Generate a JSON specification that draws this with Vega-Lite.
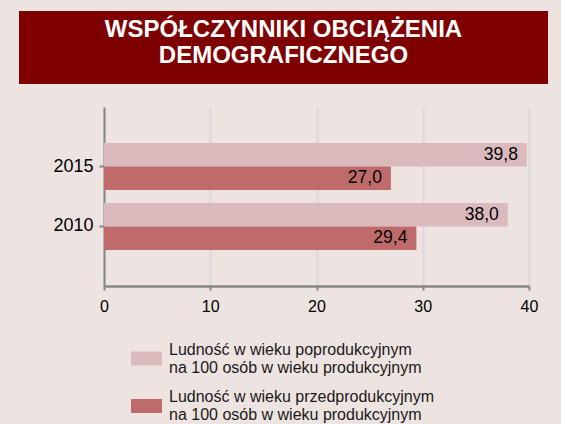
{
  "$schema": "https://vega.github.io/schema/vega-lite/v6.json",
  "background": "#EDE3E1",
  "padding": {"left": 19, "top": 11, "right": 13, "bottom": 2},
  "config": {
    "view": {"stroke": null},
    "font": "Liberation Sans",
    "locale": {"number": {"decimal": ",", "thousands": " ", "grouping": [3], "currency": ["", " zł"]}}
  },
  "spacing": 23,
  "resolve": {"scale": {"x": "independent", "y": "independent"}},
  "vconcat": [
    {
      "width": 529,
      "height": 73,
      "view": {"fill": "#7F0000", "stroke": null},
      "data": {"values": [{"k": 1}]},
      "mark": {"type": "text", "color": "#FFFFFF", "fontSize": 24, "fontWeight": "bold", "align": "center", "baseline": "middle", "lineHeight": 26},
      "encoding": {
        "text": {"value": ["WSPÓŁCZYNNIKI OBCIĄŻENIA", "DEMOGRAFICZNEGO"]},
        "x": {"datum": 0.5, "type": "quantitative", "scale": {"domain": [0, 1]}, "axis": null},
        "y": {"datum": 0.265, "type": "quantitative", "scale": {"domain": [1, 0]}, "axis": null}
      }
    },
    {
      "width": 529,
      "height": 179,
      "data": {"values": [
        {"rok": "2015", "grupa": "Ludność w wieku poprodukcyjnym na 100 osób w wieku produkcyjnym", "wartosc": 39.8},
        {"rok": "2015", "grupa": "Ludność w wieku przedprodukcyjnym na 100 osób w wieku produkcyjnym", "wartosc": 27.0},
        {"rok": "2010", "grupa": "Ludność w wieku poprodukcyjnym na 100 osób w wieku produkcyjnym", "wartosc": 38.0},
        {"rok": "2010", "grupa": "Ludność w wieku przedprodukcyjnym na 100 osób w wieku produkcyjnym", "wartosc": 29.4}
      ]},
      "encoding": {
        "y": {
          "field": "rok", "type": "nominal",
          "scale": {"domain": ["2015", "2010"], "paddingInner": 0.217, "paddingOuter": 0.603},
          "axis": {"title": null, "offset": -85, "domainColor": "#868686", "domainWidth": 2, "tickColor": "#868686", "tickSize": 5, "tickWidth": 2, "labelFontSize": 18, "labelColor": "#000000", "labelPadding": 6}
        },
        "yOffset": {
          "field": "grupa", "type": "nominal",
          "scale": {"domain": ["Ludność w wieku poprodukcyjnym na 100 osób w wieku produkcyjnym", "Ludność w wieku przedprodukcyjnym na 100 osób w wieku produkcyjnym"], "paddingInner": 0, "paddingOuter": 0}
        },
        "x": {
          "field": "wartosc", "type": "quantitative",
          "scale": {"domain": [0, 40], "range": [85, 510], "nice": false},
          "axis": {"title": null, "values": [0, 10, 20, 30, 40], "format": "d", "grid": true, "gridColor": "#D9D9D9", "gridWidth": 2, "domainColor": "#868686", "domainWidth": 2.5, "tickColor": "#868686", "tickSize": 4, "tickWidth": 2, "labelFontSize": 16, "labelColor": "#000000", "labelPadding": 8, "labelFlush": false}
        }
      },
      "layer": [
        {
          "mark": {"type": "bar"},
          "encoding": {
            "color": {
              "field": "grupa", "type": "nominal",
              "scale": {"domain": ["Ludność w wieku poprodukcyjnym na 100 osób w wieku produkcyjnym", "Ludność w wieku przedprodukcyjnym na 100 osób w wieku produkcyjnym"], "range": ["#DBBABE", "#C06B6B"]},
              "legend": {
                "title": null, "orient": "none", "legendX": 112, "legendY": 332,
                "symbolType": "M-1,-0.45H1V0.45H-1Z", "symbolSize": 961, "symbolStrokeWidth": 0, "symbolOpacity": 1,
                "labelFontSize": 16, "labelColor": "#1A1A1A", "labelLimit": 400, "labelOffset": 7, "rowPadding": 12.5,
                "labelBaseline": "line-bottom",
                "labelExpr": "[split(datum.label, ' na ')[0], 'na ' + split(datum.label, ' na ')[1]]"
              }
            }
          }
        },
        {
          "mark": {"type": "text", "align": "right", "baseline": "middle", "dx": -9, "fontSize": 17.5, "color": "#000000"},
          "encoding": {"text": {"field": "wartosc", "type": "quantitative", "format": ".1f"}}
        }
      ]
    }
  ]
}
